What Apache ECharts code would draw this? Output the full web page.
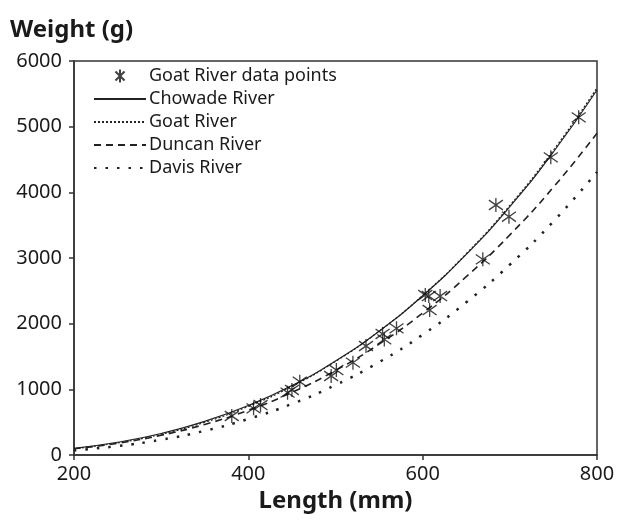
<!DOCTYPE html>
<html>
<head>
<meta charset="utf-8">
<script src="https://cdn.jsdelivr.net/npm/echarts@6/dist/echarts.min.js"></script>
<style>
  html, body { margin: 0; padding: 0; background: #fff; }
  #chart { width: 617px; height: 531px; }
</style>
</head>
<body>
<div id="chart"></div>
<script>
const lengths = [200, 250, 300, 350, 400, 450, 500, 550, 600, 650, 700, 750, 800];
const chowade = [102, 194, 328, 512, 754, 1057, 1433, 1886, 2425, 3054, 3782, 4614, 5558];
const goat = [95, 184, 316, 498, 740, 1045, 1425, 1885, 2430, 3065, 3800, 4640, 5590];
const duncan = [95, 179, 301, 466, 682, 954, 1287, 1688, 2162, 2715, 3352, 4078, 4900];
const davis = [70, 136, 233, 369, 549, 778, 1065, 1414, 1832, 2325, 2898, 3557, 4310];

// Goat River measured fish: [length, weight]
const goatPoints = [
  [381, 594], [406, 711], [414, 761], [445, 949], [450, 990], [459, 1116],
  [495, 1203], [501, 1294], [520, 1406], [535, 1660], [554, 1843], [556, 1760],
  [570, 1929], [603, 2436], [607, 2421], [608, 2208], [620, 2421],
  [669, 2980], [684, 3807], [699, 3629], [747, 4533], [779, 5142]
];

const xTicks = [200, 400, 600, 800];

const pair = (ys) => lengths.map((x, i) => [x, ys[i]]);
const asterisk = 'path://M0,-10L0,10M-7,-7L7,7M-7,7L7,-7';
const ink = '#1a1a1a';
const font = '"Noto Sans", "Open Sans", sans-serif';

const lineSeries = (name, ys, lineStyle) => ({
  name,
  type: 'line',
  data: pair(ys),
  smooth: true,
  symbol: 'circle',
  showSymbol: false,
  lineStyle: Object.assign({ color: '#222' }, lineStyle)
});

// hide the circle in the legend so only the line sample shows
const lineItem = (name) => ({ name, itemStyle: { opacity: 0 } });

const chart = echarts.init(document.getElementById('chart'));
chart.setOption({
  animation: false,
  textStyle: { fontFamily: font, color: ink },
  grid: {
    left: 74, right: 20, top: 61, bottom: 76,
    outerBoundsMode: 'none',
    show: true, borderColor: '#333', borderWidth: 1.5
  },
  legend: {
    orient: 'vertical',
    left: 88,
    top: 62,
    itemWidth: 52,
    itemHeight: 13,
    itemGap: 5,
    textStyle: { fontFamily: font, fontSize: 18, color: ink, padding: [0, 0, 0, -2] },
    data: [
      'Goat River data points',
      lineItem('Chowade River'),
      lineItem('Goat River'),
      lineItem('Duncan River'),
      lineItem('Davis River')
    ]
  },
  xAxis: {
    type: 'value',
    min: 200,
    max: 800,
    interval: 200,
    name: 'Length (mm)',
    nameLocation: 'middle',
    nameGap: 30,
    nameTextStyle: { fontFamily: font, fontSize: 24, fontWeight: 'bold', color: ink },
    axisLine: { show: true, lineStyle: { color: '#333', width: 1.5 } },
    axisTick: { show: true, length: 5, lineStyle: { color: '#333', width: 1.5 } },
    axisLabel: { fontSize: 20, color: ink, margin: 9,
      formatter: (v) => xTicks.includes(v) ? String(v) : '' },
    splitLine: { show: false }
  },
  yAxis: {
    type: 'value',
    min: 0,
    max: 6000,
    interval: 1000,
    name: 'Weight (g)',
    nameLocation: 'end',
    nameGap: 31,
    nameTextStyle: { fontFamily: font, fontSize: 24, fontWeight: 'bold', color: ink,
      align: 'left', verticalAlign: 'middle', padding: [0, 0, 0, -64] },
    axisLine: { show: true, lineStyle: { color: '#333', width: 1.5 } },
    axisTick: { show: true, length: 5, lineStyle: { color: '#333', width: 1.5 } },
    axisLabel: { fontSize: 20, color: ink, margin: 12, formatter: (v) => String(v) },
    splitLine: { show: false }
  },
  series: [
    {
      name: 'Goat River data points',
      type: 'scatter',
      data: goatPoints,
      symbol: asterisk,
      symbolSize: 14,
      z: 5,
      itemStyle: { color: 'rgba(0,0,0,0)', borderColor: '#111', borderWidth: 1.3 }
    },
    lineSeries('Chowade River', chowade, { width: 1.2, type: 'solid' }),
    lineSeries('Goat River', goat, { width: 1.2, type: [2, 2] }),
    lineSeries('Duncan River', duncan, { width: 1.6, type: [7, 5] }),
    lineSeries('Davis River', davis, { width: 2.5, type: [2.5, 9] })
  ]
});
</script>
</body>
</html>
